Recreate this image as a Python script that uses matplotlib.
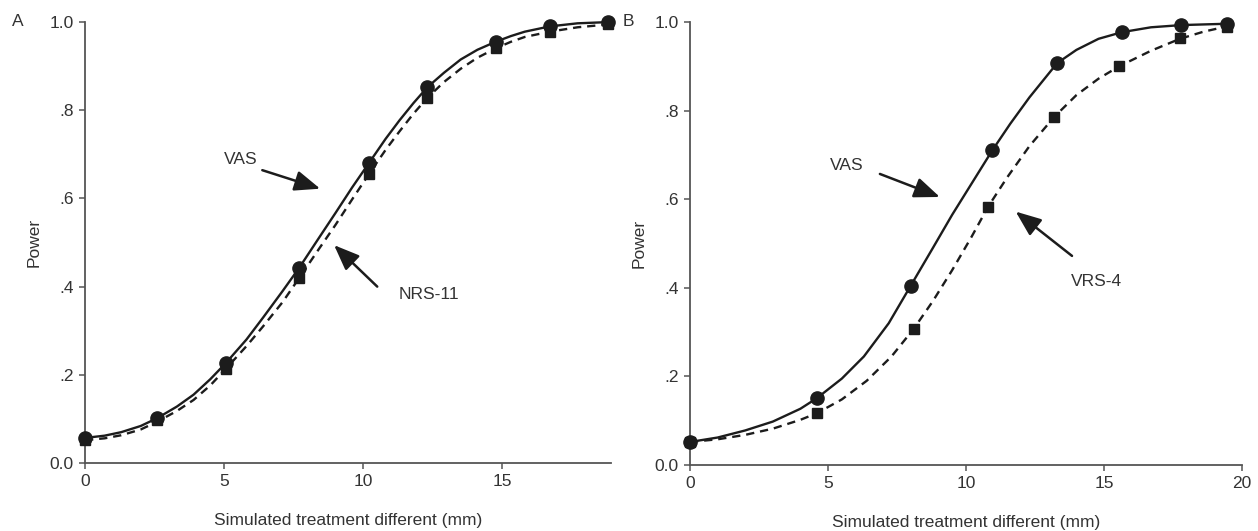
import matplotlib
matplotlib.use("Agg")
import matplotlib.pyplot as plt

plt.rcParams["font.family"] = ["Liberation Sans", "DejaVu Sans"]

INK = "#1c1c1c"
AXC = "#555555"
TXT = "#333333"

# ---- Panel A: VAS vs NRS-11
a_vas_x = [0, 2.6, 5.05, 7.7, 10.2, 12.3, 14.75, 16.7, 18.8]
a_vas_y = [0.057, 0.102, 0.226, 0.443, 0.68, 0.852, 0.955, 0.99, 1.0]
a_nrs_x = [0, 2.6, 5.05, 7.7, 10.2, 12.3, 14.75, 16.7, 18.8]
a_nrs_y = [0.052, 0.097, 0.213, 0.42, 0.655, 0.828, 0.94, 0.977, 0.995]

# fitted curves
a_vas_cx = [0, 0.7, 1.3, 2.0, 2.6, 3.3, 3.9, 4.5, 5.05, 5.8, 6.4, 7.1, 7.7, 8.4, 9.0, 9.6,
            10.2, 10.8, 11.3, 11.8, 12.3, 12.9, 13.5, 14.1, 14.75, 15.3, 15.8, 16.7, 17.7, 18.9]
a_vas_cy = [0.057, 0.062, 0.070, 0.084, 0.102, 0.128, 0.155, 0.19, 0.226, 0.28, 0.33, 0.39,
            0.443, 0.51, 0.567, 0.625, 0.68, 0.735, 0.777, 0.816, 0.852, 0.885, 0.915, 0.937,
            0.955, 0.968, 0.978, 0.99, 0.997, 1.0]
a_nrs_cx = a_vas_cx
a_nrs_cy = [0.052, 0.056, 0.063, 0.076, 0.094, 0.118, 0.143, 0.176, 0.213, 0.265, 0.31, 0.365,
            0.42, 0.485, 0.54, 0.598, 0.655, 0.71, 0.752, 0.792, 0.828, 0.864, 0.894, 0.919,
            0.94, 0.955, 0.966, 0.978, 0.988, 0.995]

# ---- Panel B: VAS vs VRS-4
b_vas_x = [0, 4.6, 8.0, 10.95, 13.3, 15.65, 17.8, 19.45]
b_vas_y = [0.052, 0.151, 0.405, 0.71, 0.907, 0.977, 0.993, 0.995]
b_vrs_x = [0, 4.6, 8.1, 10.8, 13.2, 15.55, 17.75, 19.45]
b_vrs_y = [0.052, 0.117, 0.307, 0.583, 0.786, 0.9, 0.964, 0.988]

b_vas_cx = [0, 1, 2, 3, 4, 4.6, 5.5, 6.3, 7.2, 8.0, 8.8, 9.5, 10.3, 10.95, 11.6, 12.3,
            13.3, 14.0, 14.8, 15.65, 16.7, 17.8, 19.45]
b_vas_cy = [0.052, 0.062, 0.078, 0.098, 0.127, 0.151, 0.195, 0.245, 0.32, 0.405, 0.49, 0.565,
            0.645, 0.71, 0.77, 0.83, 0.907, 0.937, 0.962, 0.977, 0.988, 0.993, 0.996]
b_vrs_cx = [0, 1, 2, 3, 4, 4.6, 5.5, 6.4, 7.3, 8.1, 8.8, 9.5, 10.2, 10.8, 11.5, 12.3,
            13.2, 14.0, 14.8, 15.55, 16.7, 17.75, 18.6, 19.45]
b_vrs_cy = [0.052, 0.058, 0.068, 0.082, 0.102, 0.117, 0.148, 0.19, 0.245, 0.307, 0.37, 0.44,
            0.515, 0.583, 0.65, 0.72, 0.786, 0.835, 0.872, 0.9, 0.935, 0.962, 0.978, 0.99]

y_ticks = [0, 0.2, 0.4, 0.6, 0.8, 1.0]
y_labels = ["0.0", ".2", ".4", ".6", ".8", "1.0"]

XLABEL = "Simulated treatment different (mm)"
FS = 12.5


def style_axes(ax, xmax, xticks):
    ax.set_xlim(0, xmax)
    ax.set_ylim(0, 1.0)
    ax.set_xticks(xticks)
    ax.set_yticks(y_ticks)
    ax.set_yticklabels(y_labels)
    for s in ("top", "right"):
        ax.spines[s].set_visible(False)
    for s in ("left", "bottom"):
        ax.spines[s].set_color(AXC)
        ax.spines[s].set_linewidth(1.3)
    ax.tick_params(direction="out", length=4, width=1.1, color=AXC,
                   labelsize=FS, labelcolor=TXT, pad=4)
    ax.set_xlabel(XLABEL, fontsize=FS, color=TXT, labelpad=17)
    ax.set_ylabel("Power", fontsize=FS, color=TXT, labelpad=6)
    for lab in ax.get_xticklabels() + ax.get_yticklabels():
        lab.set_clip_on(False)


def draw_pair(ax, cx1, cy1, px1, py1, cx2, cy2, px2, py2):
    ax.plot(cx2, cy2, color=INK, lw=1.7, linestyle=(0, (3.5, 2.5)), clip_on=False)
    ax.plot(cx1, cy1, color=INK, lw=1.7, clip_on=False)
    ax.plot(px2, py2, linestyle="none", marker="s", ms=7.5, color=INK, clip_on=False, zorder=4)
    ax.plot(px1, py1, linestyle="none", marker="o", ms=9.5, color=INK, clip_on=False, zorder=5)


def arrow_label(ax, text, text_xy, tail, tip):
    ax.text(text_xy[0], text_xy[1], text, ha="center", va="center",
            fontsize=FS, color=TXT)
    ax.annotate("", xy=tip, xytext=tail,
                arrowprops=dict(arrowstyle="-|>,head_length=0.6,head_width=0.24",
                                mutation_scale=26, lw=1.8, color=INK,
                                shrinkA=0, shrinkB=0))


fig = plt.figure(figsize=(12.58, 5.31), dpi=100)
axA = fig.add_axes([0.0676, 0.128, 0.4181, 0.8306])
axB = fig.add_axes([0.5485, 0.1243, 0.4388, 0.8343])

draw_pair(axA, a_vas_cx, a_vas_cy, a_vas_x, a_vas_y, a_nrs_cx, a_nrs_cy, a_nrs_x, a_nrs_y)
style_axes(axA, 18.9, [0, 5, 10, 15])
arrow_label(axA, "VAS", (5.58, 0.689), (6.37, 0.664), (8.45, 0.622))
arrow_label(axA, "NRS-11", (12.37, 0.382), (10.5, 0.40), (8.95, 0.494))

draw_pair(axB, b_vas_cx, b_vas_cy, b_vas_x, b_vas_y, b_vrs_cx, b_vrs_cy, b_vrs_x, b_vrs_y)
style_axes(axB, 20, [0, 5, 10, 15, 20])
arrow_label(axB, "VAS", (5.69, 0.675), (6.88, 0.657), (9.05, 0.605))
arrow_label(axB, "VRS-4", (14.71, 0.415), (13.84, 0.472), (11.8, 0.572))

fig.text(18 / 1258, 1 - 22 / 531, "A", fontsize=FS, color=TXT, va="center", ha="center")
fig.text(628 / 1258, 1 - 22 / 531, "B", fontsize=FS, color=TXT, va="center", ha="center")

fig.savefig("out.png", dpi=100, facecolor="white")
